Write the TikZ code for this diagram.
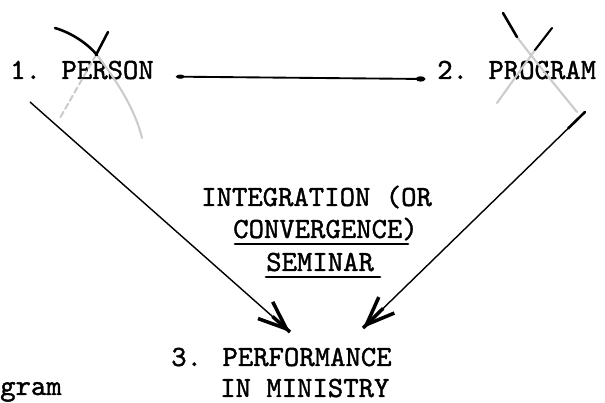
\documentclass[tikz,border=0pt]{standalone}
\usepackage{fontspec}
\usepackage{tikz}
\usetikzlibrary{arrows.meta,calc}

\newfontfamily\typedfont{lmmono10-regular.otf}[FakeBold=1.3]

\tikzset{
  typed/.style={font=\typedfont\fontsize{25}{30}\selectfont, inner sep=0pt, anchor=base west},
  shaft/.style={line width=1.2pt, -{Straight Barb[length=24pt,width=19pt,line width=3pt]}},
  link/.style={line width=1.6pt, {Ellipse[length=7pt,width=3.5pt]}-{Ellipse[length=8pt,width=4.5pt]}},
  uline/.style={line width=2.3pt, line cap=round},
  pencil/.style={gray!40, line width=1.8pt, line cap=round},
  ink/.style={line width=2.2pt, line cap=round}
}

\begin{document}
\begin{tikzpicture}[x=0.03cm,y=-0.03cm]
\useasboundingbox (0,0) rectangle (605,403);
\clip (0,0) rectangle (605,403);

% the three items
\node[typed] (person) at (10,79) {1. PERSON};
\node[typed] (program) at (437,79) {2. PROGRAM};
\node[typed] (perf) at (171,366) {3. PERFORMANCE};
\node[typed] (minis) at (220,397) {IN MINISTRY};

% seminar text
\node[typed] (integ) at (201,206) {INTEGRATION (OR};
\node[typed] (conv) at (233,238) {CONVERGENCE)};
\node[typed] (sem) at (266,271) {SEMINAR};
\draw[uline] ($(conv.base west)+(2,6)$) -- ++(173,0);
\draw[uline] ($(sem.base west)+(0,6)$) -- ++(114,0);

% cut off caption
\node[typed] (capt) at (0,395) {gram};

% connectors
\draw[link] ([xshift=19pt,yshift=2pt]person.base east) -- ([xshift=-10pt,yshift=0pt]program.base west);

\coordinate (p1) at (30,102);
\coordinate (t1) at (290,332);
\coordinate (p2) at (585,112);
\coordinate (t2) at (363,328);
\draw[shaft] (p1) -- (t1);
\draw[shaft] (p2) -- (t2);
\draw[line width=3pt] ($(t1)!20pt!(p1)$) -- (t1);
\draw[line width=3pt] ($(t2)!24pt!(p2)$) -- (t2);
\draw[ink] (p2) -- ($(p2)!20pt!(t2)$);

% crossing out marks
\draw[pencil] (97,55) .. controls (112,75) and (134,105) .. (142,138);
\draw[pencil, dash pattern=on 5pt off 3pt] (96,55) -- (60,118);
\draw[ink] (55,28) .. controls (72,33) and (88,44) .. (97,55);
\draw[ink] (108,32) -- (96,55);

\draw[pencil] (517,37) .. controls (528,52) and (555,85) .. (577,112);
\draw[pencil] (535,50) -- (497,103);
\draw[ink] (503,13) -- (517,37);
\draw[ink, line width=1.8pt] (552,28) -- (535,50);
\end{tikzpicture}
\end{document}
